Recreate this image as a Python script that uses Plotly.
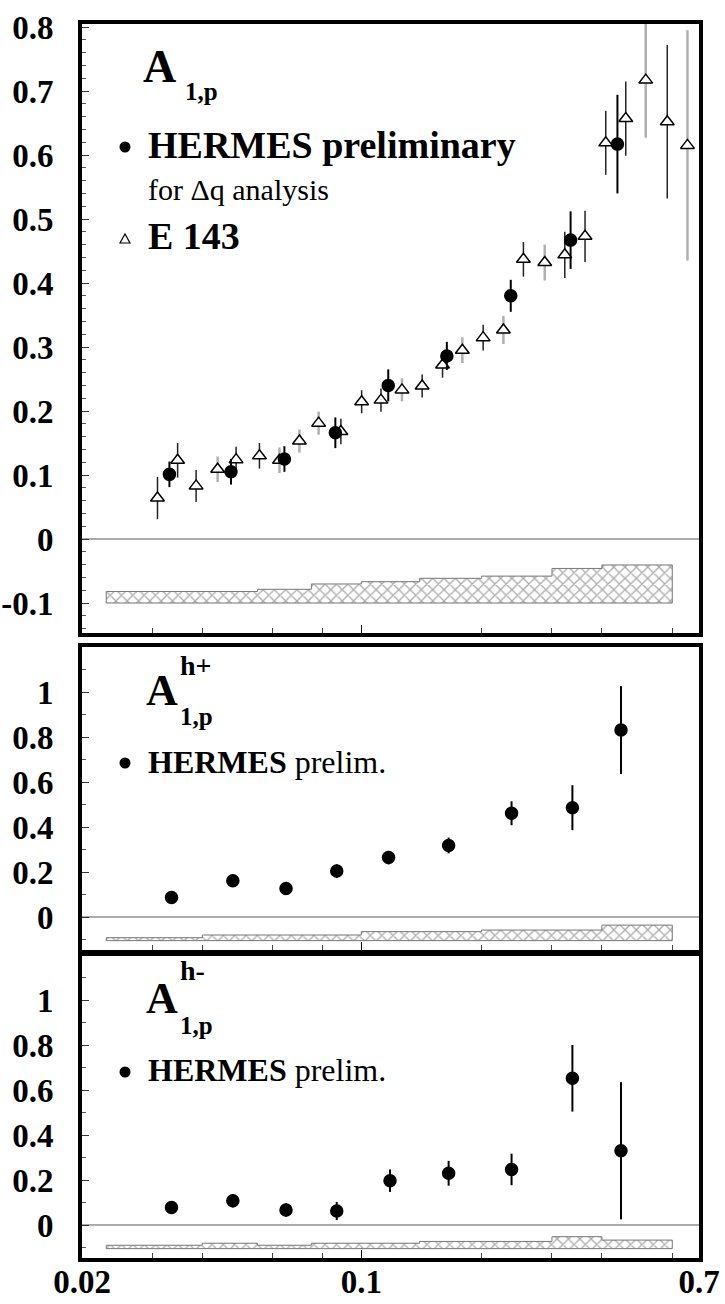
import numpy as np
import plotly.graph_objects as go

# ---------------- data ----------------
# top panel: A_1,p
hermes_x = [0.0331, 0.0472, 0.0642, 0.0861, 0.1168, 0.1637, 0.2366, 0.334, 0.4375]
hermes_y = [0.101, 0.105, 0.125, 0.166, 0.240, 0.286, 0.380, 0.467, 0.617]
hermes_err = [0.020, 0.020, 0.020, 0.024, 0.025, 0.022, 0.025, 0.045, 0.077]

e143a_x = [0.0309, 0.0347, 0.0386, 0.0486, 0.0556, 0.0889, 0.1002, 0.112, 0.142,
           0.1597, 0.2018, 0.2545, 0.323, 0.363, 0.409, 0.459, 0.583]
e143a_y = [0.064, 0.123, 0.083, 0.124, 0.130, 0.168, 0.2145, 0.217, 0.239,
           0.272, 0.3146, 0.437, 0.444, 0.473, 0.619, 0.657, 0.652]
e143a_err = [0.033, 0.027, 0.025, 0.020, 0.020, 0.020, 0.018, 0.018, 0.018,
             0.020, 0.020, 0.027, 0.036, 0.040, 0.050, 0.058, 0.120]

e143b_x = [0.0437, 0.0624, 0.070, 0.0782, 0.1264, 0.179, 0.2268, 0.2878, 0.515, 0.655]
e143b_y = [0.109, 0.123, 0.153, 0.181, 0.233, 0.295, 0.3266, 0.432, 0.717, 0.615]
e143b_err = [0.020, 0.020, 0.018, 0.018, 0.018, 0.020, 0.022, 0.028, 0.090, 0.180]

# systematic bands (bin edges shared by all panels)
sys_edges = [0.023, 0.04, 0.055, 0.075, 0.1, 0.14, 0.2, 0.3, 0.4, 0.6]
sys_top_base = -0.1
sys_top_h = [0.018, 0.018, 0.0214, 0.0297, 0.0333, 0.0386, 0.042, 0.054, 0.0594]

# middle panel: A_1,p^h+
hp_x = [0.0335, 0.0477, 0.0648, 0.0868, 0.117, 0.1654, 0.2377, 0.3375, 0.4466]
hp_y = [0.087, 0.161, 0.127, 0.204, 0.264, 0.318, 0.461, 0.486, 0.831]
hp_err = [0.020, 0.025, 0.025, 0.030, 0.030, 0.035, 0.053, 0.100, 0.195]
sys_hp_base = -0.105
sys_hp_h = [0.013, 0.025, 0.025, 0.025, 0.040, 0.040, 0.047, 0.047, 0.069]

# bottom panel: A_1,p^h-
hm_x = [0.0335, 0.0477, 0.0648, 0.0868, 0.118, 0.1654, 0.2377, 0.3375, 0.4466]
hm_y = [0.078, 0.108, 0.067, 0.062, 0.197, 0.230, 0.247, 0.652, 0.330]
hm_err = [0.025, 0.030, 0.030, 0.040, 0.050, 0.055, 0.070, 0.148, 0.305]
sys_hm_base = -0.105
sys_hm_h = [0.015, 0.024, 0.015, 0.024, 0.024, 0.032, 0.032, 0.053, 0.038]

x_tick_vals = [0.02, 0.1, 0.7]
x_tick_text = ["0.02", "0.1", "0.7"]
x_minor_vals = [0.03, 0.04, 0.06, 0.08, 0.2, 0.3, 0.4, 0.6]
top_y_ticks = [-0.1, 0, 0.1, 0.2, 0.3, 0.4, 0.5, 0.6, 0.7, 0.8]
top_y_text = ["-0.1", "0", "0.1", "0.2", "0.3", "0.4", "0.5", "0.6", "0.7", "0.8"]
low_y_ticks = [0, 0.2, 0.4, 0.6, 0.8, 1.0]
low_y_text = ["0", "0.2", "0.4", "0.6", "0.8", "1"]

# ---------------- layout geometry ----------------
W, H = 725, 1304
L, R, T, B = 82, 26, 24, 46
PW = W - L - R
PH = H - T - B


def pxx(px):
    return (px - L) / PW


def pyy(py):
    return (H - B - py) / PH


SERIF = "Liberation Serif, Times New Roman, Times, DejaVu Serif, serif"

fig = go.Figure()


def band(edges, heights, base, xa, ya):
    xs, ys = [], []
    for i, h in enumerate(heights):
        xs += [edges[i], edges[i + 1]]
        ys += [base + h, base + h]
    xs += [edges[-1], edges[0], edges[0]]
    ys += [base, base, base + heights[0]]
    fig.add_trace(go.Scatter(
        x=xs, y=ys, mode="lines", fill="toself",
        fillcolor="white",
        fillpattern=dict(shape="x", fgcolor="#555555", bgcolor="white", size=8, solidity=0.3),
        line=dict(color="#777777", width=1), xaxis=xa, yaxis=ya,
        hoverinfo="skip", showlegend=False))


def points(x, y, err, xa, ya, symbol="circle", size=12, fill="black",
           ecolor="black", ethick=2):
    fig.add_trace(go.Scatter(
        x=x, y=y, mode="markers", xaxis=xa, yaxis=ya, showlegend=False,
        marker=dict(symbol=symbol, size=size, color=fill,
                    line=dict(color="black", width=1.5)),
        error_y=dict(type="data", array=err, color=ecolor, thickness=ethick, width=0)))


# top panel
band(sys_edges, sys_top_h, sys_top_base, "x", "y")
points(e143b_x, e143b_y, e143b_err, "x", "y", symbol="triangle-up", size=12,
       fill="white", ecolor="#b0b0b0", ethick=2.5)
points(e143a_x, e143a_y, e143a_err, "x", "y", symbol="triangle-up", size=12,
       fill="white", ecolor="#222222", ethick=1.5)
points(hermes_x, hermes_y, hermes_err, "x", "y", size=12)

# middle panel
band(sys_edges, sys_hp_h, sys_hp_base, "x2", "y2")
points(hp_x, hp_y, hp_err, "x2", "y2", size=12)

# bottom panel
band(sys_edges, sys_hm_h, sys_hm_base, "x3", "y3")
points(hm_x, hm_y, hm_err, "x3", "y3", size=12)

tickfont = dict(family=SERIF, size=33, color="black", weight="bold")

xcommon = dict(type="log", range=[np.log10(0.02), np.log10(0.7)], automargin=False,
               showline=True, linewidth=4, linecolor="black", mirror=True,
               ticks="inside", ticklen=8, tickwidth=1.2, tickcolor="black",
               tickmode="array", tickvals=x_tick_vals, ticktext=x_tick_text,
               minor=dict(tickmode="array", tickvals=x_minor_vals, ticks="inside",
                          ticklen=5, tickwidth=1, tickcolor="#444"),
               showgrid=False, zeroline=False, tickfont=tickfont,
               ticklabelstandoff=-9)

ycommon = dict(showline=True, linewidth=4, linecolor="black", mirror=True, automargin=False,
               ticks="inside", ticklen=7, tickwidth=1.2, tickcolor="#333",
               showgrid=False, zeroline=True, zerolinecolor="#aaaaaa", zerolinewidth=1.5,
               tickfont=tickfont, tickmode="array", ticklabelstandoff=18)

dom_top = [pyy(633), 1.0]
dom_mid = [pyy(950), pyy(647)]
dom_bot = [0.0, pyy(956)]

fig.update_layout(
    width=W, height=H, margin=dict(l=L, r=R, t=T, b=B, pad=0, autoexpand=False),
    paper_bgcolor="white", plot_bgcolor="white", showlegend=False,
    xaxis=dict(**xcommon, anchor="y", showticklabels=False),
    xaxis2=dict(**xcommon, anchor="y2", matches="x", showticklabels=False),
    xaxis3=dict(**xcommon, anchor="y3", matches="x", showticklabels=True),
    yaxis=dict(**ycommon, anchor="x", domain=dom_top,
               range=[(539 - 633) / 640, (539 - 24) / 640],
               tickvals=top_y_ticks, ticktext=top_y_text,
               minor=dict(dtick=0.02, ticks="inside", ticklen=4, tickcolor="#555")),
    yaxis2=dict(**ycommon, anchor="x2", domain=dom_mid,
                range=[(917 - 950) / 225, (917 - 647) / 225],
                tickvals=low_y_ticks, ticktext=low_y_text,
                minor=dict(dtick=0.1, ticks="inside", ticklen=4, tickcolor="#555")),
    yaxis3=dict(**ycommon, anchor="x3", domain=dom_bot,
                range=[(1225 - 1258) / 225, (1225 - 956) / 225],
                tickvals=low_y_ticks, ticktext=low_y_text,
                minor=dict(dtick=0.1, ticks="inside", ticklen=4, tickcolor="#555")),
)

ann = []


def text(px, py, s, size, bold=True):
    ann.append(dict(xref="paper", yref="paper", x=pxx(px), y=pyy(py),
                    xanchor="left", yanchor="middle", showarrow=False,
                    text=s, font=dict(family=SERIF, size=size, color="black",
                                      weight="bold" if bold else "normal")))


# panel titles
text(141, 66, "A", 46)
text(183, 92, "1,p", 25)

text(144, 690, "A", 44)
text(178, 716, "1,p", 25)
text(178, 665, "h+", 28)

text(144, 998, "A", 44)
text(178, 1025, "1,p", 25)
text(178, 970, "h-", 28)

# legends
text(146, 145, "HERMES preliminary", 38)
text(146, 190, "for \u0394q analysis", 30, bold=False)
text(146, 236, "E 143", 38)
text(146, 762, "<b>HERMES</b> prelim.", 32, bold=False)
text(146, 1070, "<b>HERMES</b> prelim.", 32, bold=False)

fig.update_layout(annotations=ann)

shapes = []
for cy in (147, 763, 1072):
    shapes.append(dict(type="circle", xref="paper", yref="paper",
                       xsizemode="pixel", ysizemode="pixel",
                       xanchor=pxx(125), yanchor=pyy(cy),
                       x0=-5.5, x1=5.5, y0=-5.5, y1=5.5,
                       fillcolor="black", line=dict(width=0)))
shapes.append(dict(type="path", xref="paper", yref="paper",
                   xsizemode="pixel", ysizemode="pixel",
                   xanchor=pxx(125), yanchor=pyy(239),
                   path="M -5,-4 L 5,-4 L 0,5 Z",
                   fillcolor="white", line=dict(color="black", width=1.2)))
fig.update_layout(shapes=shapes)

fig.write_html("out.html", config={"displayModeBar": False})
